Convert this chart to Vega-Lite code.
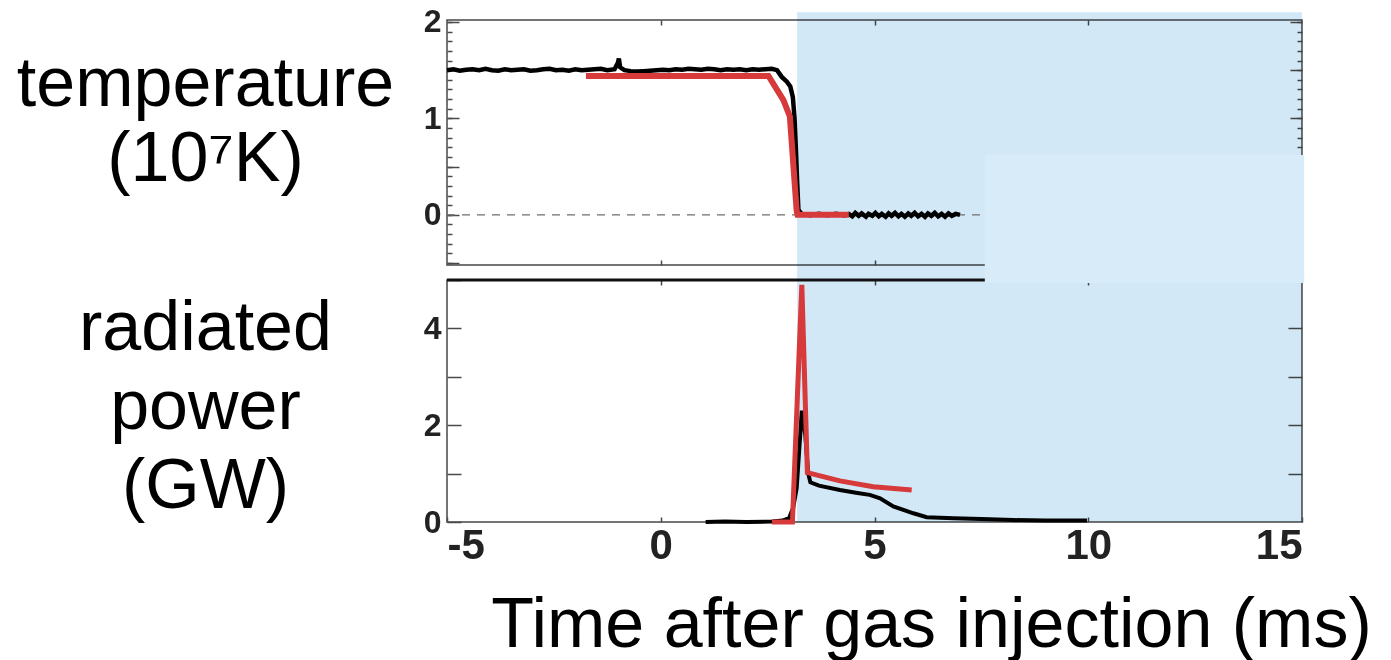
{
  "$schema": "https://vega.github.io/schema/vega-lite/v6.json",
  "background": "white",
  "padding": {"left": 15, "top": 5, "right": 0, "bottom": 0},
  "spacing": 15,
  "bounds": "flush",
  "config": {
    "view": {"stroke": "#474747", "strokeWidth": 1.5},
    "axis": {
      "grid": false,
      "domain": false,
      "tickColor": "#4a4a4a",
      "tickWidth": 1.5,
      "labelFont": "Liberation Sans",
      "labelFontWeight": "bold",
      "labelColor": "#222222",
      "titleFont": "Liberation Sans",
      "titleFontWeight": "normal",
      "titleColor": "#000000"
    }
  },
  "datasets": {
    "shadeTop": [{"t1": 3.19, "t2": 15.0, "v1": -0.68, "v2": 2.1}],
    "patchTop": [{"t1": 7.58, "t2": 15.05, "v1": -0.68, "v2": 0.62}],
    "zeroLine": [{"t1": -5, "t2": 7.5, "v": 0}],
    "tempBlack": [
      {"t": -5.0, "v": 1.50}, {"t": -4.85, "v": 1.51}, {"t": -4.7, "v": 1.495}, {"t": -4.55, "v": 1.505},
      {"t": -4.4, "v": 1.51}, {"t": -4.25, "v": 1.50}, {"t": -4.1, "v": 1.515}, {"t": -3.95, "v": 1.50},
      {"t": -3.8, "v": 1.495}, {"t": -3.65, "v": 1.51}, {"t": -3.5, "v": 1.50}, {"t": -3.35, "v": 1.505},
      {"t": -3.2, "v": 1.51}, {"t": -3.05, "v": 1.495}, {"t": -2.9, "v": 1.50}, {"t": -2.75, "v": 1.51},
      {"t": -2.6, "v": 1.515}, {"t": -2.45, "v": 1.50}, {"t": -2.3, "v": 1.505}, {"t": -2.15, "v": 1.495},
      {"t": -2.0, "v": 1.51}, {"t": -1.85, "v": 1.50}, {"t": -1.7, "v": 1.505}, {"t": -1.55, "v": 1.51},
      {"t": -1.4, "v": 1.515}, {"t": -1.25, "v": 1.50}, {"t": -1.08, "v": 1.51}, {"t": -1.0, "v": 1.58},
      {"t": -0.98, "v": 1.62}, {"t": -0.95, "v": 1.53}, {"t": -0.85, "v": 1.50}, {"t": -0.7, "v": 1.49},
      {"t": -0.55, "v": 1.485}, {"t": -0.4, "v": 1.49}, {"t": -0.25, "v": 1.495}, {"t": -0.1, "v": 1.50},
      {"t": 0.05, "v": 1.505}, {"t": 0.2, "v": 1.50}, {"t": 0.35, "v": 1.51}, {"t": 0.5, "v": 1.505},
      {"t": 0.65, "v": 1.515}, {"t": 0.8, "v": 1.51}, {"t": 0.95, "v": 1.505}, {"t": 1.1, "v": 1.515},
      {"t": 1.25, "v": 1.51}, {"t": 1.4, "v": 1.50}, {"t": 1.55, "v": 1.51}, {"t": 1.7, "v": 1.505},
      {"t": 1.85, "v": 1.51}, {"t": 2.0, "v": 1.50}, {"t": 2.15, "v": 1.51}, {"t": 2.3, "v": 1.505},
      {"t": 2.45, "v": 1.51}, {"t": 2.6, "v": 1.515}, {"t": 2.72, "v": 1.50}, {"t": 2.83, "v": 1.43},
      {"t": 2.95, "v": 1.38}, {"t": 3.03, "v": 1.33}, {"t": 3.09, "v": 1.22}, {"t": 3.13, "v": 1.0},
      {"t": 3.16, "v": 0.7}, {"t": 3.19, "v": 0.35}, {"t": 3.22, "v": 0.05}, {"t": 3.3, "v": 0.01},
      {"t": 3.5, "v": -0.005}, {"t": 3.7, "v": 0.01}, {"t": 3.9, "v": -0.005}, {"t": 4.1, "v": 0.01},
      {"t": 4.3, "v": -0.005}, {"t": 4.4, "v": 0.01}, {"t": 4.48, "v": -0.015}, {"t": 4.55, "v": 0.02},
      {"t": 4.63, "v": -0.01}, {"t": 4.7, "v": 0.015}, {"t": 4.8, "v": -0.02}, {"t": 4.86, "v": 0.01},
      {"t": 4.95, "v": -0.01}, {"t": 5.02, "v": 0.02}, {"t": 5.1, "v": -0.015}, {"t": 5.17, "v": 0.01},
      {"t": 5.26, "v": -0.02}, {"t": 5.33, "v": 0.015}, {"t": 5.4, "v": -0.01}, {"t": 5.48, "v": 0.02},
      {"t": 5.56, "v": -0.015}, {"t": 5.63, "v": 0.01}, {"t": 5.71, "v": -0.02}, {"t": 5.79, "v": 0.015},
      {"t": 5.86, "v": -0.01}, {"t": 5.94, "v": 0.02}, {"t": 6.02, "v": -0.015}, {"t": 6.1, "v": 0.01},
      {"t": 6.18, "v": -0.02}, {"t": 6.25, "v": 0.015}, {"t": 6.33, "v": -0.01}, {"t": 6.41, "v": 0.02},
      {"t": 6.49, "v": -0.015}, {"t": 6.57, "v": 0.01}, {"t": 6.65, "v": -0.02}, {"t": 6.73, "v": 0.015},
      {"t": 6.81, "v": -0.01}, {"t": 6.9, "v": 0.01}, {"t": 7.0, "v": 0.0}
    ],
    "tempRed": [
      {"t": -1.75, "v": 1.44}, {"t": 2.52, "v": 1.44}, {"t": 2.87, "v": 1.19}, {"t": 3.02, "v": 1.02},
      {"t": 3.18, "v": 0.04}, {"t": 3.2, "v": 0.0}, {"t": 4.4, "v": 0.0}
    ],
    "shadeBottom": [{"t1": 3.19, "t2": 15.0, "v1": 0, "v2": 5}],
    "topRule": [{"t1": -5, "t2": 7.6, "v": 5}],
    "patchBottom": [{"t1": 7.58, "t2": 15.05, "v1": 4.94, "v2": 5.06}],
    "powerBlack": [
      {"t": 1.05, "v": 0.0}, {"t": 1.5, "v": 0.01}, {"t": 2.0, "v": 0.0}, {"t": 2.6, "v": 0.01},
      {"t": 2.85, "v": 0.03}, {"t": 3.0, "v": 0.08}, {"t": 3.1, "v": 0.3}, {"t": 3.18, "v": 0.7},
      {"t": 3.3, "v": 2.3}, {"t": 3.38, "v": 1.8}, {"t": 3.45, "v": 1.0}, {"t": 3.5, "v": 0.82},
      {"t": 3.7, "v": 0.75}, {"t": 4.19, "v": 0.66}, {"t": 4.6, "v": 0.6}, {"t": 4.89, "v": 0.56},
      {"t": 5.13, "v": 0.49}, {"t": 5.44, "v": 0.32}, {"t": 5.91, "v": 0.18}, {"t": 6.22, "v": 0.1},
      {"t": 6.85, "v": 0.08}, {"t": 7.5, "v": 0.06}, {"t": 8.25, "v": 0.04}, {"t": 9.0, "v": 0.03},
      {"t": 9.97, "v": 0.03}
    ],
    "powerRed": [
      {"t": 2.6, "v": 0.0}, {"t": 3.08, "v": 0.0}, {"t": 3.3, "v": 4.9}, {"t": 3.43, "v": 1.02},
      {"t": 4.19, "v": 0.85}, {"t": 4.97, "v": 0.73}, {"t": 5.87, "v": 0.66}
    ]
  },
  "vconcat": [
    {
      "width": 855,
      "height": 245,
      "resolve": {"axis": {"x": "independent", "y": "independent"}},
      "layer": [
        {
          "data": {"name": "shadeTop"},
          "mark": {"type": "rect", "color": "#d3e8f6", "blend": "multiply"},
          "encoding": {
            "x": {"field": "t1", "type": "quantitative", "scale": {"domain": [-5, 15], "nice": false, "zero": false},
                  "axis": {"orient": "bottom", "values": [0, 5, 10], "tickSize": -5, "labels": false, "title": null}},
            "x2": {"field": "t2"},
            "y": {"field": "v1", "type": "quantitative", "scale": {"domain": [-0.52, 2.02], "nice": false, "zero": false},
                  "axis": {"orient": "left", "values": [-0.5, -0.4, -0.3, -0.2, -0.1, 0, 0.1, 0.2, 0.3, 0.4, 0.5, 0.6, 0.7, 0.8, 0.9, 1, 1.1, 1.2, 1.3, 1.4, 1.5, 1.6, 1.7, 1.8, 1.9, 2],
                           "tickSize": -5, "labels": false, "title": null}},
            "y2": {"field": "v2"}
          }
        },
        {
          "data": {"name": "zeroLine"},
          "mark": {"type": "rule", "color": "#6e6e6e", "strokeDash": [8, 7], "strokeWidth": 1.2},
          "encoding": {
            "x": {"field": "t1", "type": "quantitative", "axis": {"orient": "top", "values": [0, 5, 10], "tickSize": -5, "labels": false, "title": null}},
            "x2": {"field": "t2"},
            "y": {"field": "v", "type": "quantitative",
                  "axis": {"orient": "right", "values": [0.7, 0.8, 0.9, 1, 1.1, 1.2, 1.3, 1.4, 1.5, 1.6, 1.7, 1.8, 1.9, 2], "tickSize": -5, "labels": false, "title": null}}
          }
        },
        {
          "data": {"name": "tempBlack"},
          "mark": {"type": "line", "color": "#000000", "strokeWidth": 4.5},
          "encoding": {
            "x": {"field": "t", "type": "quantitative", "axis": null},
            "y": {"field": "v", "type": "quantitative",
                  "axis": {"orient": "left", "values": [-0.5, 0, 0.5, 1, 1.5, 2], "tickSize": -12,
                           "labelExpr": "datum.value == 0 || datum.value == 1 || datum.value == 2 ? format(datum.value, 'd') : ''",
                           "labelFontSize": 32, "labelPadding": 18,
                           "title": ["temperature", "(10⁷K)"], "titleAngle": 0, "titleFontSize": 70,
                           "titleAlign": "center", "titleBaseline": "middle", "titleLineHeight": 75,
                           "titleX": -242, "titleY": 64}}
          }
        },
        {
          "data": {"name": "tempRed"},
          "mark": {"type": "line", "color": "#d63a3a", "strokeWidth": 6},
          "encoding": {
            "x": {"field": "t", "type": "quantitative", "axis": null},
            "y": {"field": "v", "type": "quantitative",
                  "axis": {"orient": "right", "values": [1, 1.5, 2], "tickSize": -12, "labels": false, "title": null}}
          }
        },
        {
          "data": {"name": "patchTop"},
          "mark": {"type": "rect", "color": "#d8ebf8"},
          "encoding": {
            "x": {"field": "t1", "type": "quantitative", "axis": null},
            "x2": {"field": "t2"},
            "y": {"field": "v1", "type": "quantitative", "axis": null},
            "y2": {"field": "v2"}
          }
        }
      ]
    },
    {
      "width": 855,
      "height": 242,
      "resolve": {"axis": {"x": "independent", "y": "independent"}},
      "layer": [
        {
          "data": {"name": "shadeBottom"},
          "mark": {"type": "rect", "color": "#d3e8f6", "blend": "multiply"},
          "encoding": {
            "x": {"field": "t1", "type": "quantitative", "scale": {"domain": [-5, 15], "nice": false, "zero": false},
                  "axis": {"orient": "bottom", "values": [-5, 0, 5, 10, 15], "tickSize": -5, "labelFlush": true,
                           "labelExpr": "replace(datum.label, '−', '-')",
                           "labelFontSize": 42, "labelPadding": 8,
                           "title": "Time after gas injection (ms)", "titleFontSize": 70, "titleAlign": "center",
                           "titleBaseline": "middle", "titleX": 484, "titleY": 103}},
            "x2": {"field": "t2"},
            "y": {"field": "v1", "type": "quantitative", "scale": {"domain": [0, 5], "nice": false, "zero": false},
                  "axis": {"orient": "left", "values": [0, 1, 2, 3, 4, 5], "tickSize": -14,
                           "labelExpr": "datum.value == 0 || datum.value == 2 || datum.value == 4 ? datum.label : ''",
                           "labelFontSize": 32, "labelPadding": 20,
                           "title": ["radiated", "power", "(GW)"], "titleAngle": 0, "titleFontSize": 70,
                           "titleAlign": "center", "titleBaseline": "middle", "titleLineHeight": 79,
                           "titleX": -242, "titleY": 48}},
            "y2": {"field": "v2"}
          }
        },
        {
          "data": {"name": "topRule"},
          "mark": {"type": "rule", "color": "#111111", "strokeWidth": 3},
          "encoding": {
            "x": {"field": "t1", "type": "quantitative", "axis": {"orient": "top", "values": [0, 5, 10], "tickSize": -5, "labels": false, "title": null}},
            "x2": {"field": "t2"},
            "y": {"field": "v", "type": "quantitative",
                  "axis": {"orient": "right", "values": [1, 2, 3, 4], "tickSize": -14, "labels": false, "title": null}}
          }
        },
        {
          "data": {"name": "powerBlack"},
          "mark": {"type": "line", "color": "#000000", "strokeWidth": 4},
          "encoding": {
            "x": {"field": "t", "type": "quantitative", "axis": null},
            "y": {"field": "v", "type": "quantitative", "axis": null}
          }
        },
        {
          "data": {"name": "powerRed"},
          "mark": {"type": "line", "color": "#d63a3a", "strokeWidth": 5},
          "encoding": {
            "x": {"field": "t", "type": "quantitative", "axis": null},
            "y": {"field": "v", "type": "quantitative", "axis": null}
          }
        },
        {
          "data": {"name": "patchBottom"},
          "mark": {"type": "rect", "color": "#d8ebf8"},
          "encoding": {
            "x": {"field": "t1", "type": "quantitative", "axis": null},
            "x2": {"field": "t2"},
            "y": {"field": "v1", "type": "quantitative", "axis": null},
            "y2": {"field": "v2"}
          }
        }
      ]
    }
  ]
}
